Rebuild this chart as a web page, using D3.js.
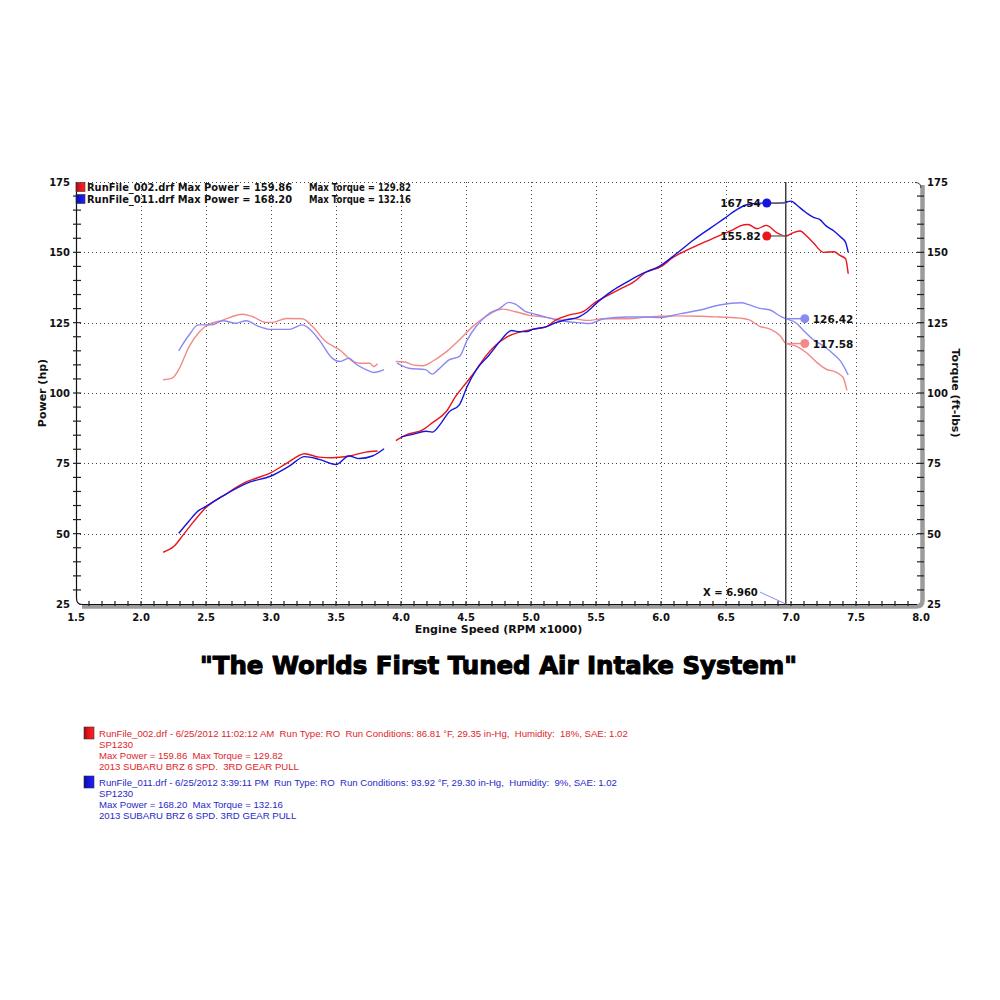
<!DOCTYPE html>
<html>
<head>
<meta charset="utf-8">
<script src="https://cdn.jsdelivr.net/npm/d3@7"></script>
<style>
  body { margin: 0; background: #fff; }
  svg { display: block; }
  .info { white-space: pre; }
</style>
</head>
<body>
<div id="chart"></div>
<script>
// --- data ---
const rpmTicks = [1.5, 2.0, 2.5, 3.0, 3.5, 4.0, 4.5, 5.0, 5.5, 6.0, 6.5, 7.0, 7.5, 8.0];
const valueTicks = [25, 50, 75, 100, 125, 150, 175];

// [rpm x1000, value] ; null = break in the trace
const powerRun002 = [[2.17,43.4],[2.26,45.8],[2.32,49.3],[2.40,54.0],[2.50,59.3],[2.65,64.0],[2.81,68.4],[2.88,69.6],[3.00,71.7],[3.12,75.0],[3.26,78.4],[3.37,77.2],[3.47,77.0],[3.60,77.6],[3.73,79.0],[3.82,79.4], null,
  [3.96,83.1],[4.04,85.1],[4.17,87.0],[4.24,89.4],[4.35,93.5],[4.42,98.8],[4.51,104.1],[4.58,108.3],[4.65,113.0],[4.73,117.1],[4.81,119.8],[4.91,121.6],[5.01,122.6],[5.12,123.6],[5.19,125.9],[5.29,127.7],[5.40,128.9],[5.50,132.4],[5.58,134.4],[5.68,136.8],[5.79,139.5],[5.89,143.1],[6.00,144.9],[6.09,148.1],[6.20,150.8],[6.30,152.9],[6.40,155.0],[6.50,157.0],[6.56,158.2],[6.61,159.4],[6.67,159.9],[6.74,158.4],[6.81,159.6],[6.89,157.0],[6.96,155.8],[7.02,157.0],[7.07,157.6],[7.12,155.8],[7.17,153.5],[7.25,150.0],[7.33,150.2],[7.38,148.8],[7.42,147.7],[7.44,142.4]];

const powerRun011 = [[2.29,50.1],[2.37,54.5],[2.44,58.1],[2.50,59.7],[2.63,63.4],[2.83,68.2],[3.00,70.5],[3.14,74.0],[3.26,77.4],[3.37,76.4],[3.50,74.6],[3.60,77.6],[3.68,76.7],[3.78,77.6],[3.87,80.2], null,
  [4.00,84.4],[4.09,85.3],[4.19,86.4],[4.24,86.1],[4.31,89.4],[4.37,93.3],[4.45,95.9],[4.51,102.4],[4.58,108.3],[4.68,113.6],[4.76,118.3],[4.85,122.2],[4.91,121.8],[4.97,121.8],[5.01,122.6],[5.12,123.6],[5.19,125.0],[5.27,126.0],[5.37,127.1],[5.43,128.8],[5.53,133.0],[5.63,136.5],[5.74,139.5],[5.86,142.5],[5.99,145.1],[6.12,149.6],[6.25,154.4],[6.38,158.6],[6.48,161.8],[6.58,165.1],[6.66,166.9],[6.76,167.5],[6.86,167.4],[6.94,167.6],[7.00,168.2],[7.04,167.0],[7.07,165.8],[7.12,164.0],[7.17,162.5],[7.22,161.7],[7.27,159.4],[7.33,157.6],[7.38,155.5],[7.42,153.5],[7.44,150.0]];

const torqueRun002 = [[2.17,104.7],[2.24,105.3],[2.29,108.3],[2.37,116.5],[2.45,121.8],[2.50,123.8],[2.63,125.9],[2.78,128.0],[2.86,127.1],[2.96,125.1],[3.01,125.1],[3.12,126.5],[3.24,126.4],[3.32,123.6],[3.42,118.3],[3.53,115.3],[3.63,111.2],[3.68,110.6],[3.76,110.6],[3.79,109.4],[3.82,110.4], null,
  [3.96,111.2],[4.03,111.0],[4.09,110.0],[4.17,109.7],[4.24,111.2],[4.35,114.7],[4.45,118.9],[4.55,123.6],[4.65,127.1],[4.78,129.8],[4.88,128.9],[4.98,127.7],[5.12,126.9],[5.22,125.9],[5.33,126.4],[5.43,125.8],[5.56,126.4],[5.74,126.4],[5.89,127.0],[5.99,127.3],[6.12,127.4],[6.30,127.3],[6.45,127.0],[6.61,126.6],[6.68,126.0],[6.76,123.7],[6.84,122.7],[6.92,120.2],[6.96,117.6],[7.04,116.7],[7.12,114.3],[7.20,110.8],[7.27,108.5],[7.35,107.3],[7.40,105.6],[7.43,100.9]];

const torqueRun011 = [[2.29,115.0],[2.37,120.6],[2.44,124.2],[2.54,124.2],[2.63,125.7],[2.73,124.8],[2.81,125.7],[2.90,123.8],[3.00,122.6],[3.14,122.6],[3.24,124.2],[3.29,123.0],[3.37,118.9],[3.47,112.4],[3.53,111.2],[3.60,112.4],[3.65,110.4],[3.73,108.3],[3.79,107.3],[3.87,108.3], null,
  [3.97,110.6],[4.06,108.8],[4.19,108.3],[4.24,106.7],[4.29,108.5],[4.37,111.8],[4.45,113.0],[4.51,118.9],[4.58,123.8],[4.68,128.3],[4.76,130.1],[4.83,132.2],[4.88,131.6],[4.96,128.9],[5.01,128.3],[5.12,126.9],[5.19,126.2],[5.27,125.4],[5.37,125.0],[5.45,124.7],[5.56,126.4],[5.74,127.0],[5.89,127.0],[5.99,126.8],[6.15,128.2],[6.30,129.5],[6.45,131.3],[6.62,132.1],[6.68,131.3],[6.76,130.1],[6.84,129.5],[6.92,127.2],[6.96,126.4],[7.04,124.9],[7.09,122.5],[7.17,119.0],[7.25,116.7],[7.33,113.7],[7.38,111.4],[7.44,106.4]];

const cursorRpm = 6.96;
const powerAtCursor = [167.54, 155.82];   // run 011, run 002
const torqueAtCursor = [126.42, 117.58];  // run 011, run 002

const legendNames = ["RunFile_002.drf Max Power = 159.86", "RunFile_011.drf Max Power = 168.20"];
const legendTorque = ["Max Torque = 129.82", "Max Torque = 132.16"];
const runColors = ["#e8151b", "#1414dc"];
const torqueColors = ["#f28a8a", "#8a8af2"];

const infoRun002 = [
  "RunFile_002.drf - 6/25/2012 11:02:12 AM  Run Type: RO  Run Conditions: 86.81 °F, 29.35 in-Hg,  Humidity:  18%, SAE: 1.02",
  "SP1230",
  "Max Power = 159.86  Max Torque = 129.82",
  "2013 SUBARU BRZ 6 SPD.  3RD GEAR PULL"
];
const infoRun011 = [
  "RunFile_011.drf - 6/25/2012 3:39:11 PM  Run Type: RO  Run Conditions: 93.92 °F, 29.30 in-Hg,  Humidity:  9%, SAE: 1.02",
  "SP1230",
  "Max Power = 168.20  Max Torque = 132.16",
  "2013 SUBARU BRZ 6 SPD. 3RD GEAR PULL"
];

const titleText = "\"The Worlds First Tuned Air Intake System\"";

// --- svg ---
const svg = d3.select("#chart").append("svg")
  .attr("width", 1000).attr("height", 1000);

const x = d3.scaleLinear().domain([1.5, 8.0]).range([76, 921]);
const y = d3.scaleLinear().domain([25, 175]).range([604, 182]);

const boldFont = "'DejaVu Sans', Verdana, sans-serif";

// gradient for the little run swatches
const defs = svg.append("defs");
runColors.forEach((c, i) => {
  const g = defs.append("linearGradient").attr("id", "sw" + i);
  g.append("stop").attr("offset", "0%").attr("stop-color", d3.color(c).darker(1.2));
  g.append("stop").attr("offset", "45%").attr("stop-color", c);
  g.append("stop").attr("offset", "100%").attr("stop-color", d3.color(c).brighter(1.3));
});

// --- grid (dotted) ---
const grid = svg.append("g").attr("stroke", "#444").attr("stroke-width", 1)
  .attr("stroke-dasharray", "1,3");
grid.selectAll(".vg").data(rpmTicks.slice(1, -1)).enter().append("line")
  .attr("x1", d => Math.round(x(d)) + 0.5).attr("x2", d => Math.round(x(d)) + 0.5)
  .attr("y1", y(175)).attr("y2", y(25));
grid.selectAll(".hg").data(valueTicks.slice(1, -1)).enter().append("line")
  .attr("x1", x(1.5)).attr("x2", x(8.0))
  .attr("y1", d => Math.round(y(d)) + 0.5).attr("y2", d => Math.round(y(d)) + 0.5);
// dotted top border
grid.append("line")
  .attr("x1", x(1.5)).attr("x2", x(8.0) - 6)
  .attr("y1", y(175) + 0.5).attr("y2", y(175) + 0.5);

// --- frame with grey shadow ---
const L = x(1.5), R = x(8.0), T = y(175), B = y(25);
svg.append("path")
  .attr("d", `M${R + 1.5},${T + 3} L${R + 1.5},${B - 4} Q${R + 1.5},${B + 2.5} ${R - 5},${B + 2.5} L${L + 6},${B + 2.5}`)
  .attr("fill", "none").attr("stroke", "#9c9c9c").attr("stroke-width", 4.5);
svg.append("path")
  .attr("d", `M${R - 6},${T + 0.5} Q${R},${T + 0.5} ${R},${T + 6}`)
  .attr("fill", "none").attr("stroke", "#333").attr("stroke-width", 1);
svg.append("path")
  .attr("d", `M${L + 0.5},${T} L${L + 0.5},${B - 6} Q${L + 0.5},${B + 0.5} ${L + 6},${B + 0.5} L${R - 4},${B + 0.5}`)
  .attr("fill", "none").attr("stroke", "#111").attr("stroke-width", 1.2);

// ticks
const minorV = d3.range(25, 176, 5);
const minorX = d3.range(16, 80).map(d => d / 10);
const ticks = svg.append("g").attr("stroke", "#222").attr("stroke-width", 1.2);
ticks.selectAll(".lt").data(minorV.slice(1, -1)).enter().append("line")
  .attr("x1", L - 3).attr("x2", L + 5).attr("y1", d => y(d)).attr("y2", d => y(d));
ticks.selectAll(".rt").data(minorV.slice(1, -1)).enter().append("line")
  .attr("x1", R - 4).attr("x2", R + 3).attr("y1", d => y(d)).attr("y2", d => y(d));
ticks.selectAll(".bt").data(minorX).enter().append("line")
  .attr("x1", d => x(d)).attr("x2", d => x(d)).attr("y1", B - 3).attr("y2", B + 2);

// tick labels
svg.append("g").selectAll("text").data(valueTicks).enter().append("text")
  .attr("x", L - 6).attr("y", d => y(d) + 4)
  .attr("text-anchor", "end").style("font", `bold 10px ${boldFont}`).style("fill", "#111")
  .text(d => d);
svg.append("g").selectAll("text").data(valueTicks).enter().append("text")
  .attr("x", R + 6).attr("y", d => y(d) + 4)
  .attr("text-anchor", "start").style("font", `bold 10px ${boldFont}`).style("fill", "#111")
  .text(d => d);
svg.append("g").selectAll("text").data(rpmTicks).enter().append("text")
  .attr("x", d => x(d)).attr("y", B + 17)
  .attr("text-anchor", "middle").style("font", `bold 10px ${boldFont}`).style("fill", "#111")
  .text(d => d.toFixed(1));

// axis titles
svg.append("text")
  .attr("x", (L + R) / 2).attr("y", B + 29)
  .attr("text-anchor", "middle").style("font", `bold 11px ${boldFont}`).style("fill", "#111")
  .text("Engine Speed (RPM x1000)");
svg.append("text")
  .attr("transform", `translate(46,${y(100)}) rotate(-90)`)
  .attr("text-anchor", "middle").style("font", `bold 11px ${boldFont}`).style("fill", "#111")
  .text("Power (hp)");
svg.append("text")
  .attr("transform", `translate(952,${y(100)}) rotate(90)`)
  .attr("text-anchor", "middle").style("font", `bold 11px ${boldFont}`).style("fill", "#111")
  .text("Torque (ft-lbs)");

// --- curves ---
const line = d3.line()
  .defined(d => d)
  .x(d => x(d[0]))
  .y(d => y(d[1]))
  .curve(d3.curveMonotoneX);

const traces = [
  { data: torqueRun002, color: torqueColors[0] },
  { data: torqueRun011, color: torqueColors[1] },
  { data: powerRun002, color: runColors[0] },
  { data: powerRun011, color: runColors[1] }
];
svg.append("g").selectAll("path").data(traces).enter().append("path")
  .attr("d", d => line(d.data))
  .attr("fill", "none")
  .attr("stroke", d => d.color)
  .attr("stroke-width", 1.4)
  .attr("stroke-linejoin", "round");

// --- cursor ---
const cx = x(cursorRpm);
svg.append("line")
  .attr("x1", cx).attr("x2", cx).attr("y1", T).attr("y2", B)
  .attr("stroke", "#111").attr("stroke-width", 1.2);
svg.append("line")
  .attr("x1", cx - 26).attr("y1", B - 12).attr("x2", cx).attr("y2", B)
  .attr("stroke", "#8a8af2").attr("stroke-width", 1);
svg.append("text")
  .attr("x", cx - 28).attr("y", B - 8)
  .attr("text-anchor", "end").style("font", `bold 10px ${boldFont}`).style("fill", "#111")
  .text("X = " + cursorRpm.toFixed(3));

// power markers (left of cursor) – order: run 011 then run 002
const powerMarks = powerAtCursor.map((v, i) => ({ v, color: runColors[1 - i] }));
const pm = svg.append("g").selectAll("g").data(powerMarks).enter().append("g");
pm.append("line")
  .attr("x1", cx - 19).attr("x2", cx).attr("y1", d => y(d.v)).attr("y2", d => y(d.v))
  .attr("stroke", "#777").attr("stroke-width", 1.5);
pm.append("circle")
  .attr("cx", cx - 19).attr("cy", d => y(d.v)).attr("r", 4.5)
  .attr("fill", d => d.color);
pm.append("text")
  .attr("x", cx - 25).attr("y", d => y(d.v) + 4)
  .attr("text-anchor", "end").style("font", `bold 10.5px ${boldFont}`).style("fill", "#111")
  .text(d => d.v.toFixed(2));

// torque markers (right of cursor)
const torqueMarks = torqueAtCursor.map((v, i) => ({ v, color: torqueColors[1 - i] }));
const tm = svg.append("g").selectAll("g").data(torqueMarks).enter().append("g");
tm.append("line")
  .attr("x1", cx).attr("x2", cx + 19).attr("y1", d => y(d.v)).attr("y2", d => y(d.v))
  .attr("stroke", d => d.color).attr("stroke-width", 1.5);
tm.append("circle")
  .attr("cx", cx + 19).attr("cy", d => y(d.v)).attr("r", 4.5)
  .attr("fill", d => d.color);
tm.append("text")
  .attr("x", cx + 27).attr("y", d => y(d.v) + 4)
  .attr("text-anchor", "start").style("font", `bold 10.5px ${boldFont}`).style("fill", "#111")
  .text(d => d.v.toFixed(2));

// --- legend inside the plot ---
const lg = svg.append("g").selectAll("g").data(legendNames).enter().append("g")
  .attr("transform", (d, i) => `translate(${L},${T + i * 12})`);
lg.append("rect")
  .attr("x", 0).attr("y", 0.5).attr("width", 9).attr("height", 9)
  .attr("fill", (d, i) => `url(#sw${i})`).attr("stroke", "#333").attr("stroke-width", 0.6);
lg.append("text")
  .attr("x", 11).attr("y", 8.5)
  .attr("textLength", 205).attr("lengthAdjust", "spacingAndGlyphs")
  .style("font", `bold 10px ${boldFont}`).style("fill", "#111")
  .text(d => d);
lg.append("text")
  .attr("x", 233).attr("y", 8.5)
  .attr("textLength", 102).attr("lengthAdjust", "spacingAndGlyphs")
  .style("font", `bold 10px ${boldFont}`).style("fill", "#111")
  .text((d, i) => legendTorque[i]);

// --- slogan ---
svg.append("text")
  .attr("x", 200).attr("y", 674)
  .attr("textLength", 597).attr("lengthAdjust", "spacingAndGlyphs")
  .style("font", `900 25px ${boldFont}`).style("fill", "#000")
  .style("stroke", "#000").style("stroke-width", 1.1)
  .text(titleText);

// --- run info blocks ---
const infoBlocks = [
  { lines: infoRun002, color: "#e0252b", top: 727 },
  { lines: infoRun011, color: "#2828c8", top: 776 }
];
infoBlocks.forEach((b, i) => {
  svg.append("rect")
    .attr("x", 84).attr("y", b.top).attr("width", 10).attr("height", 12)
    .attr("fill", `url(#sw${i})`).attr("stroke", "#333").attr("stroke-width", 0.6);
  svg.append("g").selectAll("text").data(b.lines).enter().append("text")
    .attr("class", "info")
    .attr("x", 99).attr("y", (d, j) => b.top + 9.5 + j * 11)
    .style("font", "9.6px 'Liberation Sans', Arial, sans-serif")
    .style("fill", b.color)
    .text(d => d);
});
</script>
</body>
</html>
